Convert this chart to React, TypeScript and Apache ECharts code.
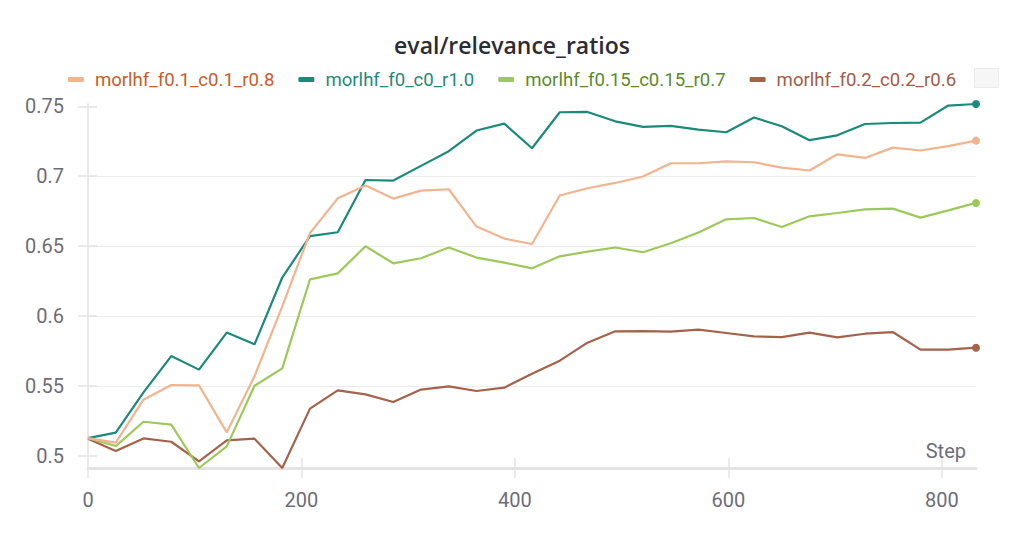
import React, { useEffect, useRef } from "react";
import * as echarts from "echarts";

const steps = [0, 26, 52, 78, 104, 130, 156, 182, 208, 234, 260, 286, 312, 338, 364, 390, 416, 442, 468, 494, 520, 546, 572, 598, 624, 650, 676, 702, 728, 754, 780, 806, 832];

const peach = [0.5126, 0.5093, 0.5401, 0.5506, 0.5503, 0.5167, 0.5568, 0.6069, 0.6594, 0.6842, 0.6933, 0.684, 0.6897, 0.6907, 0.664, 0.6554, 0.6515, 0.6862, 0.6914, 0.6952, 0.6998, 0.7093, 0.7093, 0.7107, 0.71, 0.7062, 0.7041, 0.7157, 0.7131, 0.7205, 0.7184, 0.7215, 0.7255];
const teal = [0.5126, 0.5165, 0.5453, 0.5713, 0.5616, 0.5881, 0.5797, 0.6275, 0.6572, 0.6599, 0.6973, 0.6969, 0.7074, 0.7179, 0.7327, 0.7377, 0.72, 0.7458, 0.746, 0.7393, 0.7353, 0.736, 0.7334, 0.7315, 0.742, 0.7358, 0.7258, 0.7293, 0.7374, 0.7381, 0.7384, 0.7506, 0.7517];
const green = [0.5126, 0.5069, 0.5243, 0.5222, 0.4912, 0.5067, 0.5501, 0.5625, 0.6262, 0.6305, 0.6499, 0.6377, 0.6413, 0.649, 0.6418, 0.6382, 0.6341, 0.6427, 0.6461, 0.649, 0.6456, 0.652, 0.6597, 0.6692, 0.6701, 0.6637, 0.6713, 0.6737, 0.6763, 0.6768, 0.6704, 0.6756, 0.6809];
const brown = [0.5122, 0.5033, 0.5124, 0.51, 0.4959, 0.511, 0.5122, 0.4912, 0.5337, 0.5468, 0.5439, 0.5384, 0.5473, 0.5496, 0.5463, 0.5487, 0.5587, 0.568, 0.5809, 0.589, 0.5892, 0.5888, 0.5902, 0.5878, 0.5854, 0.5849, 0.5881, 0.5847, 0.5873, 0.5885, 0.5759, 0.5759, 0.5773];

const seriesNames = ["morlhf_f0.1_c0.1_r0.8", "morlhf_f0_c0_r1.0", "morlhf_f0.15_c0.15_r0.7", "morlhf_f0.2_c0.2_r0.6"];
const seriesValues = [peach, teal, green, brown];
const lineColors = ["#f2b48f", "#1b8a7b", "#9dc95b", "#a4624b"];
const legendTextColors = ["#c75e28", "#1f8a7b", "#5b8a2c", "#a35c47"];

const xTicks = [0, 200, 400, 600, 800];
const yTicks = [0.5, 0.55, 0.6, 0.65, 0.7, 0.75];

const titleText = "eval/relevance_ratios";
const xName = "Step";

const FONT = "Roboto, 'Noto Sans', sans-serif";
const TITLE_FONT = "'Open Sans', Roboto, sans-serif";
const GRID_COLOR = "#ececef";
const AXIS_COLOR = "#e3e3e6";
const LABEL_COLOR = "#6d6d78";

export default function App() {
  const ref = useRef<HTMLDivElement>(null);

  useEffect(() => {
    if (!ref.current) return;
    const chart = echarts.init(ref.current, undefined, { renderer: "svg" });
    const all = seriesValues.flat();
    const yMin = Math.min(...all);
    const yMax = Math.max(...all);
    const xMin = steps[0];
    const xMax = steps[steps.length - 1];

    const series = seriesNames.map((name, si) => ({
      name,
      type: "line",
      xAxisIndex: 0,
      yAxisIndex: 0,
      clip: false,
      symbol: "circle",
      symbolSize: 0,
      showSymbol: true,
      lineStyle: { width: 2.2, color: lineColors[si] },
      itemStyle: { color: lineColors[si] },
      emphasis: { disabled: true },
      z: 10 - si,
      data: steps.map((s, i) =>
        i === steps.length - 1
          ? { value: [s, seriesValues[si][i]], symbolSize: 8 }
          : { value: [s, seriesValues[si][i]] }
      ),
    }));

    chart.setOption({
      animation: false,
      backgroundColor: "#ffffff",
      title: {
        text: titleText,
        left: "center",
        top: 28,
        textStyle: { fontFamily: TITLE_FONT, fontSize: 23, fontWeight: 600, color: "#2c2c33" },
      },
      legend: {
        top: 65,
        left: "center",
        icon: "roundRect",
        itemWidth: 16,
        itemHeight: 5,
        itemGap: 24,
        selectedMode: false,
        textStyle: { fontFamily: FONT, fontSize: 18.6, padding: [0, 0, 0, 6] },
        data: seriesNames.map((n, i) => ({
          name: n,
          itemStyle: { color: lineColors[i] },
          textStyle: { color: legendTextColors[i] },
        })),
      },
      grid: { left: 88, right: 48, top: 104, bottom: 70, containLabel: false },
      xAxis: [
        {
          type: "value",
          min: xMin,
          max: xMax,
          position: "bottom",
          axisLine: { show: true, onZero: false, lineStyle: { color: AXIS_COLOR, width: 3 } },
          axisTick: { show: true, inside: false, length: 10, lineStyle: { color: AXIS_COLOR, width: 1.5 }, customValues: xTicks },
          axisLabel: { show: true, margin: 22, fontFamily: FONT, fontSize: 20, color: LABEL_COLOR, customValues: xTicks, showMinLabel: true, showMaxLabel: true },
          splitLine: { show: false },
        },
        {
          type: "value",
          min: xMin,
          max: xMax,
          position: "bottom",
          axisLine: { show: false, onZero: false },
          axisTick: { show: true, inside: true, length: 10, lineStyle: { color: AXIS_COLOR, width: 1.5 }, customValues: xTicks.slice(1) },
          axisLabel: { show: false },
          splitLine: { show: false },
        },
      ],
      yAxis: [
        {
          type: "value",
          min: yMin,
          max: yMax,
          position: "left",
          axisLine: { show: true, onZero: false, lineStyle: { color: AXIS_COLOR, width: 1.5 } },
          axisTick: { show: true, inside: false, length: 10, lineStyle: { color: AXIS_COLOR, width: 1.5 }, customValues: yTicks },
          axisLabel: { show: true, margin: 24, fontFamily: FONT, fontSize: 20, color: LABEL_COLOR, customValues: yTicks, showMinLabel: true, showMaxLabel: true },
          splitLine: { show: true, showMinLine: false, showMaxLine: false, lineStyle: { color: GRID_COLOR, width: 1 } },
        },
        {
          type: "value",
          min: yMin,
          max: yMax,
          position: "left",
          axisLine: { show: false, onZero: false },
          axisTick: { show: true, inside: true, length: 9, lineStyle: { color: AXIS_COLOR, width: 1.5 }, customValues: yTicks },
          axisLabel: { show: false },
          splitLine: { show: false },
        },
      ],
      graphic: [
        {
          type: "text",
          right: 1024 - 966,
          top: 441,
          style: { text: xName, fontFamily: FONT, fontSize: 20, fill: LABEL_COLOR },
        },
        {
          type: "rect",
          left: 974,
          top: 68,
          shape: { width: 24, height: 19 },
          style: { fill: "#f6f6f7", stroke: "#ebebee", lineWidth: 1 },
        },
      ],
      series,
    });
    return () => chart.dispose();
  }, []);

  return (
    <div
      ref={ref}
      style={{ position: "absolute", left: 0, top: 0, width: 1024, height: 538 }}
    />
  );
}
